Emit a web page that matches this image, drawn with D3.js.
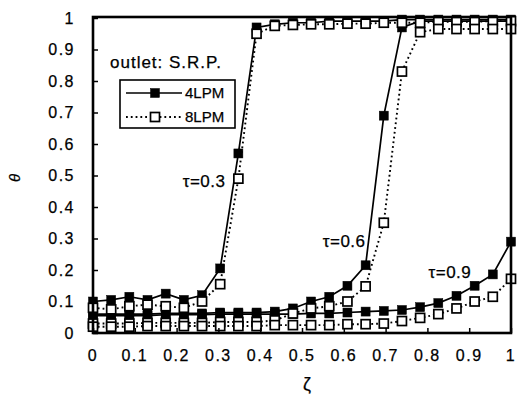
<!DOCTYPE html>
<html>
<head>
<meta charset="utf-8">
<script src="https://cdnjs.cloudflare.com/ajax/libs/d3/7.8.5/d3.min.js"></script>
<style>
  body { margin: 0; background: #fff; }
  text { font-family: "Liberation Sans", Arial, sans-serif; fill: #000; stroke: #000; stroke-width: 0.25px; }
</style>
</head>
<body>
<svg id="chart" width="519" height="408"></svg>
<script>
// ζ positions of the measuring points (24 points along the vessel)
var zeta = [0, 0.0435, 0.087, 0.1304, 0.1739, 0.2174, 0.2609, 0.3043, 0.3478, 0.3913, 0.4348, 0.4783,
            0.5217, 0.5652, 0.6087, 0.6522, 0.6957, 0.7391, 0.7826, 0.8261, 0.8696, 0.913, 0.9565, 1];

// θ values, 4LPM
var tau03_4 = [0.10, 0.105, 0.115, 0.105, 0.125, 0.105, 0.12, 0.205, 0.57, 0.97, 0.98, 0.985,
               0.985, 0.99, 0.99, 0.99, 0.99, 0.995, 0.995, 0.995, 0.995, 0.995, 0.995, 0.995];
var tau06_4 = [0.06, 0.06, 0.06, 0.06, 0.062, 0.062, 0.062, 0.065, 0.065, 0.065, 0.068, 0.078,
               0.10, 0.115, 0.15, 0.215, 0.69, 0.97, 0.99, 0.99, 0.99, 0.99, 0.99, 0.99];
var tau09_4 = [0.055, 0.055, 0.055, 0.055, 0.058, 0.058, 0.058, 0.06, 0.06, 0.06, 0.06, 0.06,
               0.062, 0.062, 0.065, 0.068, 0.07, 0.073, 0.082, 0.095, 0.118, 0.15, 0.186, 0.29];

// θ values, 8LPM
var tau03_8 = [0.08, 0.075, 0.085, 0.09, 0.085, 0.08, 0.10, 0.155, 0.49, 0.95, 0.975, 0.978,
               0.98, 0.98, 0.982, 0.982, 0.985, 0.985, 0.985, 0.988, 0.988, 0.988, 0.99, 0.99];
var tau06_8 = [0.03, 0.03, 0.03, 0.032, 0.032, 0.032, 0.032, 0.035, 0.035, 0.035, 0.04, 0.062,
               0.078, 0.085, 0.10, 0.148, 0.35, 0.83, 0.955, 0.965, 0.965, 0.965, 0.965, 0.965];
var tau09_8 = [0.02, 0.02, 0.02, 0.022, 0.022, 0.022, 0.022, 0.022, 0.022, 0.022, 0.025, 0.025,
               0.025, 0.025, 0.028, 0.028, 0.03, 0.038, 0.048, 0.06, 0.078, 0.1, 0.115, 0.172];

var xTicks = [0, 0.1, 0.2, 0.3, 0.4, 0.5, 0.6, 0.7, 0.8, 0.9, 1];
var yTicks = [0, 0.1, 0.2, 0.3, 0.4, 0.5, 0.6, 0.7, 0.8, 0.9, 1];

// curve labels: [text, ζ, θ]
var curveLabels = [["τ=0.3", 0.317, 0.465], ["τ=0.6", 0.652, 0.272], ["τ=0.9", 0.905, 0.176]];

var svg = d3.select("#chart");

var x = d3.scaleLinear().domain([0, 1]).range([93, 511]);
var y = d3.scaleLinear().domain([0, 1]).range([333, 18]);

var markSize = 9;

var drawSeries = function(values, filled) {
    var pts = zeta.map(function(z, i) { return [z, values[i]]; });
    var line = d3.line()
        .x(function(d) { return x(d[0]); })
        .y(function(d) { return y(d[1]); });

    svg.append("path")
        .attr("d", line(pts))
        .attr("fill", "none")
        .attr("stroke", "#000")
        .attr("stroke-width", filled ? 1.7 : 1.9)
        .attr("stroke-dasharray", filled ? null : "1.8,3");

    svg.selectAll(null).data(pts).enter()
        .append("rect")
        .attr("x", function(d) { return x(d[0]) - markSize / 2; })
        .attr("y", function(d) { return y(d[1]) - markSize / 2; })
        .attr("width", markSize)
        .attr("height", markSize)
        .attr("fill", filled ? "#000" : "#fff")
        .attr("stroke", "#000")
        .attr("stroke-width", filled ? 0.5 : 1.7);
};

// 4LPM first, the open squares end up on top
drawSeries(tau03_4, true);
drawSeries(tau06_4, true);
drawSeries(tau09_4, true);
drawSeries(tau03_8, false);
drawSeries(tau06_8, false);
drawSeries(tau09_8, false);

// frame
svg.append("rect")
    .attr("x", x(0)).attr("y", y(1) - 1)
    .attr("width", x(1) - x(0)).attr("height", y(0) - y(1) + 1)
    .attr("fill", "none").attr("stroke", "#000").attr("stroke-width", 2.6);

// inward ticks
var yAxis = d3.axisRight(y).tickValues(yTicks).tickSize(5).tickFormat("");
svg.append("g").attr("transform", "translate(" + x(0) + ",0)").call(yAxis)
    .call(function(g) { g.select(".domain").remove(); })
    .selectAll("line").attr("stroke-width", 1.5);

var xAxis = d3.axisTop(x).tickValues(xTicks).tickSize(5).tickFormat("");
svg.append("g").attr("transform", "translate(0," + y(0) + ")").call(xAxis)
    .call(function(g) { g.select(".domain").remove(); })
    .selectAll("line").attr("stroke-width", 1.5);

// tick labels
svg.selectAll(null).data(yTicks).enter().append("text")
    .attr("x", 75)
    .attr("y", function(d) { return y(d); })
    .attr("dy", "0.36em")
    .attr("text-anchor", "end")
    .style("font-size", "16px")
    .style("letter-spacing", "1.5px")
    .text(function(d) { return d3.format("")(d); });

svg.selectAll(null).data(xTicks).enter().append("text")
    .attr("x", function(d) { return x(d); })
    .attr("y", 361)
    .attr("text-anchor", "middle")
    .style("font-size", "16px")
    .style("letter-spacing", "1.5px")
    .text(function(d) { return d3.format("")(d); });

// axis titles
svg.append("text")
    .attr("transform", "translate(20,178) rotate(-90)")
    .attr("text-anchor", "middle")
    .style("font-size", "15px")
    .style("font-style", "italic")
    .text("θ");

svg.append("text")
    .attr("x", 307).attr("y", 390)
    .attr("text-anchor", "middle")
    .style("font-size", "18px")
    .text("ζ");

// curve labels
svg.selectAll(null).data(curveLabels).enter().append("text")
    .attr("x", function(d) { return x(d[1]); })
    .attr("y", function(d) { return y(d[2]); })
    .attr("text-anchor", "end")
    .style("font-size", "17px")
    .style("letter-spacing", "0.5px")
    .text(function(d) { return d[0]; });

// legend
svg.append("text")
    .attr("x", 110).attr("y", 68)
    .style("font-size", "17px")
    .style("letter-spacing", "1px")
    .text("outlet: S.R.P.");

var lg = svg.append("g");
lg.append("rect")
    .attr("x", 120).attr("y", 80).attr("width", 115).attr("height", 48)
    .attr("fill", "#fff").attr("stroke", "#000").attr("stroke-width", 1.6);

var legendItems = [["4LPM", true, 93], ["8LPM", false, 117]];
legendItems.forEach(function(it) {
    lg.append("line")
        .attr("x1", 126).attr("x2", 182).attr("y1", it[2]).attr("y2", it[2])
        .attr("stroke", "#000")
        .attr("stroke-width", it[1] ? 1.7 : 1.9)
        .attr("stroke-dasharray", it[1] ? null : "1.8,3");
    lg.append("rect")
        .attr("x", 155 - markSize / 2).attr("y", it[2] - markSize / 2)
        .attr("width", markSize).attr("height", markSize)
        .attr("fill", it[1] ? "#000" : "#fff")
        .attr("stroke", "#000").attr("stroke-width", it[1] ? 0.5 : 1.7);
    lg.append("text")
        .attr("x", 185).attr("y", it[2]).attr("dy", "0.36em")
        .style("font-size", "15px")
        .text(it[0]);
});
</script>
</body>
</html>
